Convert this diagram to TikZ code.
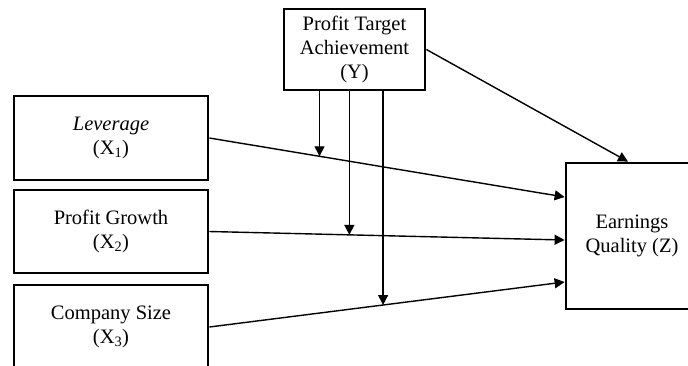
\documentclass[tikz,border=0pt]{standalone}
\usepackage{fontspec}
\setmainfont{Liberation Serif}
\usetikzlibrary{arrows.meta,calc}
\tikzset{
  var/.style={draw, line width=2.8pt, align=center, inner sep=0pt,
    font=\fontsize{20.5}{24}\selectfont},
  link/.style={line width=1.4pt, -{Triangle[length=10pt,width=10pt]}}
}
\begin{document}
\begin{tikzpicture}[x=1pt, y=-1pt]
  \useasboundingbox (0,0) rectangle (688,365);
  \clip (0,0) rectangle (688,365);
  % variables
  \node[var, minimum width=194pt, minimum height=84pt] (x1) at (111,138)
    {\textit{Leverage}\\(X\textsubscript{1})};
  \node[var, minimum width=194pt, minimum height=83pt] (x2) at (111,231.5)
    {Profit Growth\\(X\textsubscript{2})};
  \node[var, minimum width=194pt, minimum height=84pt] (x3) at (111,327)
    {Company Size\\(X\textsubscript{3})};
  \node[var, minimum width=141pt, minimum height=81pt] (y) at (354.5,49.5)
    {Profit Target\\Achievement\\(Y)};
  \node[var, minimum width=132pt, minimum height=146pt] (z) at (632,236)
    {Earnings\\Quality (Z)};
  % arrow ends
  \coordinate (z1) at ($(z.west)+(0,-39)$);
  \coordinate (z2) at ($(z.west)+(0,4)$);
  \coordinate (z3) at ($(z.west)+(0,46)$);
  \coordinate (m1) at ($(x1.east)!0.31!(z1)$);
  \coordinate (m2) at ($(x2.east)!0.394!(z2)$);
  \coordinate (m3) at ($(x3.east)!0.489!(z3)$);
  \begin{scope}[link]
    \draw (x1.east) to (z1);
    \draw (x2.east) to (z2);
    \draw (x3.east) to (z3);
    \draw (y.east) to ($(z.north)+(-4,0)$);
    \draw (y.south -| m1) to (m1);
    \draw (y.south -| m2) to (m2);
    \draw (y.south -| m3) to (m3);
  \end{scope}
\end{tikzpicture}
\end{document}
